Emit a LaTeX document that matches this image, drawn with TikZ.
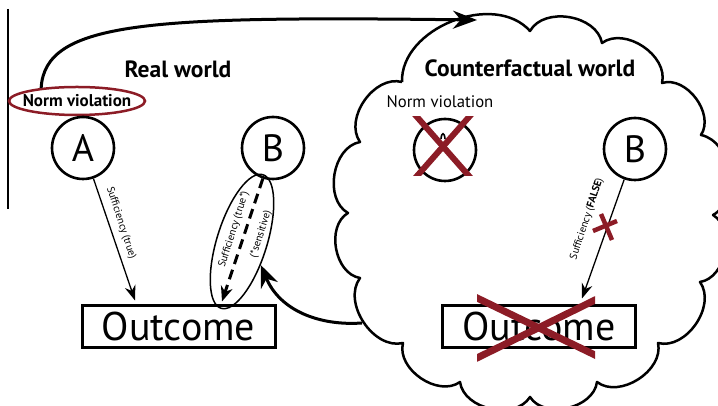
\documentclass[tikz,border=0pt]{standalone}
\usepackage{fontspec}
\setmainfont{PT Sans}
\usetikzlibrary{arrows.meta,shapes.geometric,calc}
\definecolor{nred}{RGB}{140,28,38}
\begin{document}
\begin{tikzpicture}[x=1pt,y=1pt,
  circ/.style={draw,circle,line width=2.6pt,minimum size=62pt,inner sep=0pt,font=\fontsize{38}{40}\selectfont},
  outbox/.style={draw,line width=3pt,minimum width=193pt,minimum height=42pt,inner sep=0pt,font=\fontsize{40}{42}\selectfont},
  title/.style={font=\fontsize{23.5}{26}\selectfont\bfseries},
  lab/.style={font=\fontsize{10.5}{12}\selectfont,inner sep=0pt},
  bigarrow/.style={line width=3pt,-{Stealth[length=24pt,width=18pt]}},
  backarrow/.style={line width=3pt,-{Stealth[length=22pt,width=18pt]}},
  suff/.style={line width=1.3pt,-{Stealth[length=15pt,width=11pt]}},
  dasharrow/.style={line width=3pt,dash pattern=on 10pt off 6pt,-{Stealth[length=15pt,width=12pt]}},
  redx/.style={nred,line width=6pt},
  cloudline/.style={line width=2.5pt,line join=round},
  puff/.style={bend left=70},
]
\useasboundingbox (0,0) rectangle (718,406);
\clip (0,0) rectangle (718,406);

% cloud
\draw[cloudline] (402,324) to[puff] (530,375) to[puff] (602,363)
  to[puff] (662,323) to[puff] (701,271) to[puff] (713,191)
  to[puff] (700,124) to[puff] (658,63) to[puff] (597,24)
  to[puff] (530,9) to[puff] (460,24) to[puff] (403,63)
  to[puff] (360,128) to[puff] (348,193) to[puff] (360,264)
  to[puff] (402,324);

% vertical line
\coordinate (v1) at (8,397);
\coordinate (v2) at (8,197);
\draw[line width=1.2pt] (v1) -- (v2);

% titles
\node[title] (t1) at (178,337) {Real world};
\node[title] (t2) at (530,338) {Counterfactual world};

% norm violation
\node[draw=nred,line width=2.5pt,ellipse,minimum width=136pt,minimum height=28pt,inner sep=0pt] (nv) at (77,305) {};
\node[font=\fontsize{17}{19}\selectfont\bfseries] (nvt) at (nv.center) {Norm violation};
\node[font=\fontsize{16.7}{19}\selectfont] (nv2) at (440,304) {Norm violation};

% circles and boxes
\node[circ] (A) at (83,258) {A};
\node[circ] (B) at (273,258) {B};
\node[circ] (A2) at (445,256) {};
\node[circ] (B2) at (635,257) {B};
\node[outbox] (o1) at (178.5,79) {Outcome};
\node[outbox] (o2) at (539,79) {Outcome};

% big curve to the counterfactual world
\coordinate (cltop) at (477,386);
\draw[bigarrow] (nv.160) .. controls (45,385) and (150,390) .. (cltop);

% real-world arrows
\draw[suff] (A) -- ($(o1.north)+(-43.5,4)$);
\node[lab,rotate=-71.8] (l1) at (121,183) {Sufficiency (true)};

\node[draw,line width=1.5pt,ellipse,minimum width=140pt,minimum height=50pt,inner sep=0pt,rotate=72.6] (ell) at (242,164.5) {};
\draw[dasharrow] (B) -- ($(o1.north)+(43.5,3)$);
\node[lab,rotate=72.6] (l2) at (234,176.5) {Sufficiency (true*)};
\node[lab,rotate=72.6] (l3) at (261,172) {(*sensitive)};

% back arrow from cloud
\coordinate (cl) at (362,83);
\draw[backarrow] (cl) .. controls (320,80) and (280,95) .. (ell.-124.6);

% counterfactual arrow
\draw[suff] (B2) -- ($(o2.north)+(43,6)$);
\node[lab,rotate=71.8] (l4) at (587,187) {Sufficiency (\textbf{FALSE})};

% remnant of A
\draw[line width=1.6pt] (441,267) .. controls (441.5,274) and (444.5,274) .. (445,267);

% red crosses
\begin{scope}
\clip (0,230) rectangle (718,289);
\draw[redx] (410,297) -- (476,222);
\draw[redx] (476,297) -- (410,222);
\end{scope}
\begin{scope}
\clip (477,0) rectangle (595,406);
\draw[redx,line width=7pt] (470,111.4) -- (602,47.6);
\draw[redx,line width=7pt] (470,44.6) -- (602,109.4);
\end{scope}
\draw[nred,line width=4.5pt] (593,175) -- (617,185);
\draw[nred,line width=4.5pt] (601,192) -- (612,166);
\end{tikzpicture}
\end{document}
